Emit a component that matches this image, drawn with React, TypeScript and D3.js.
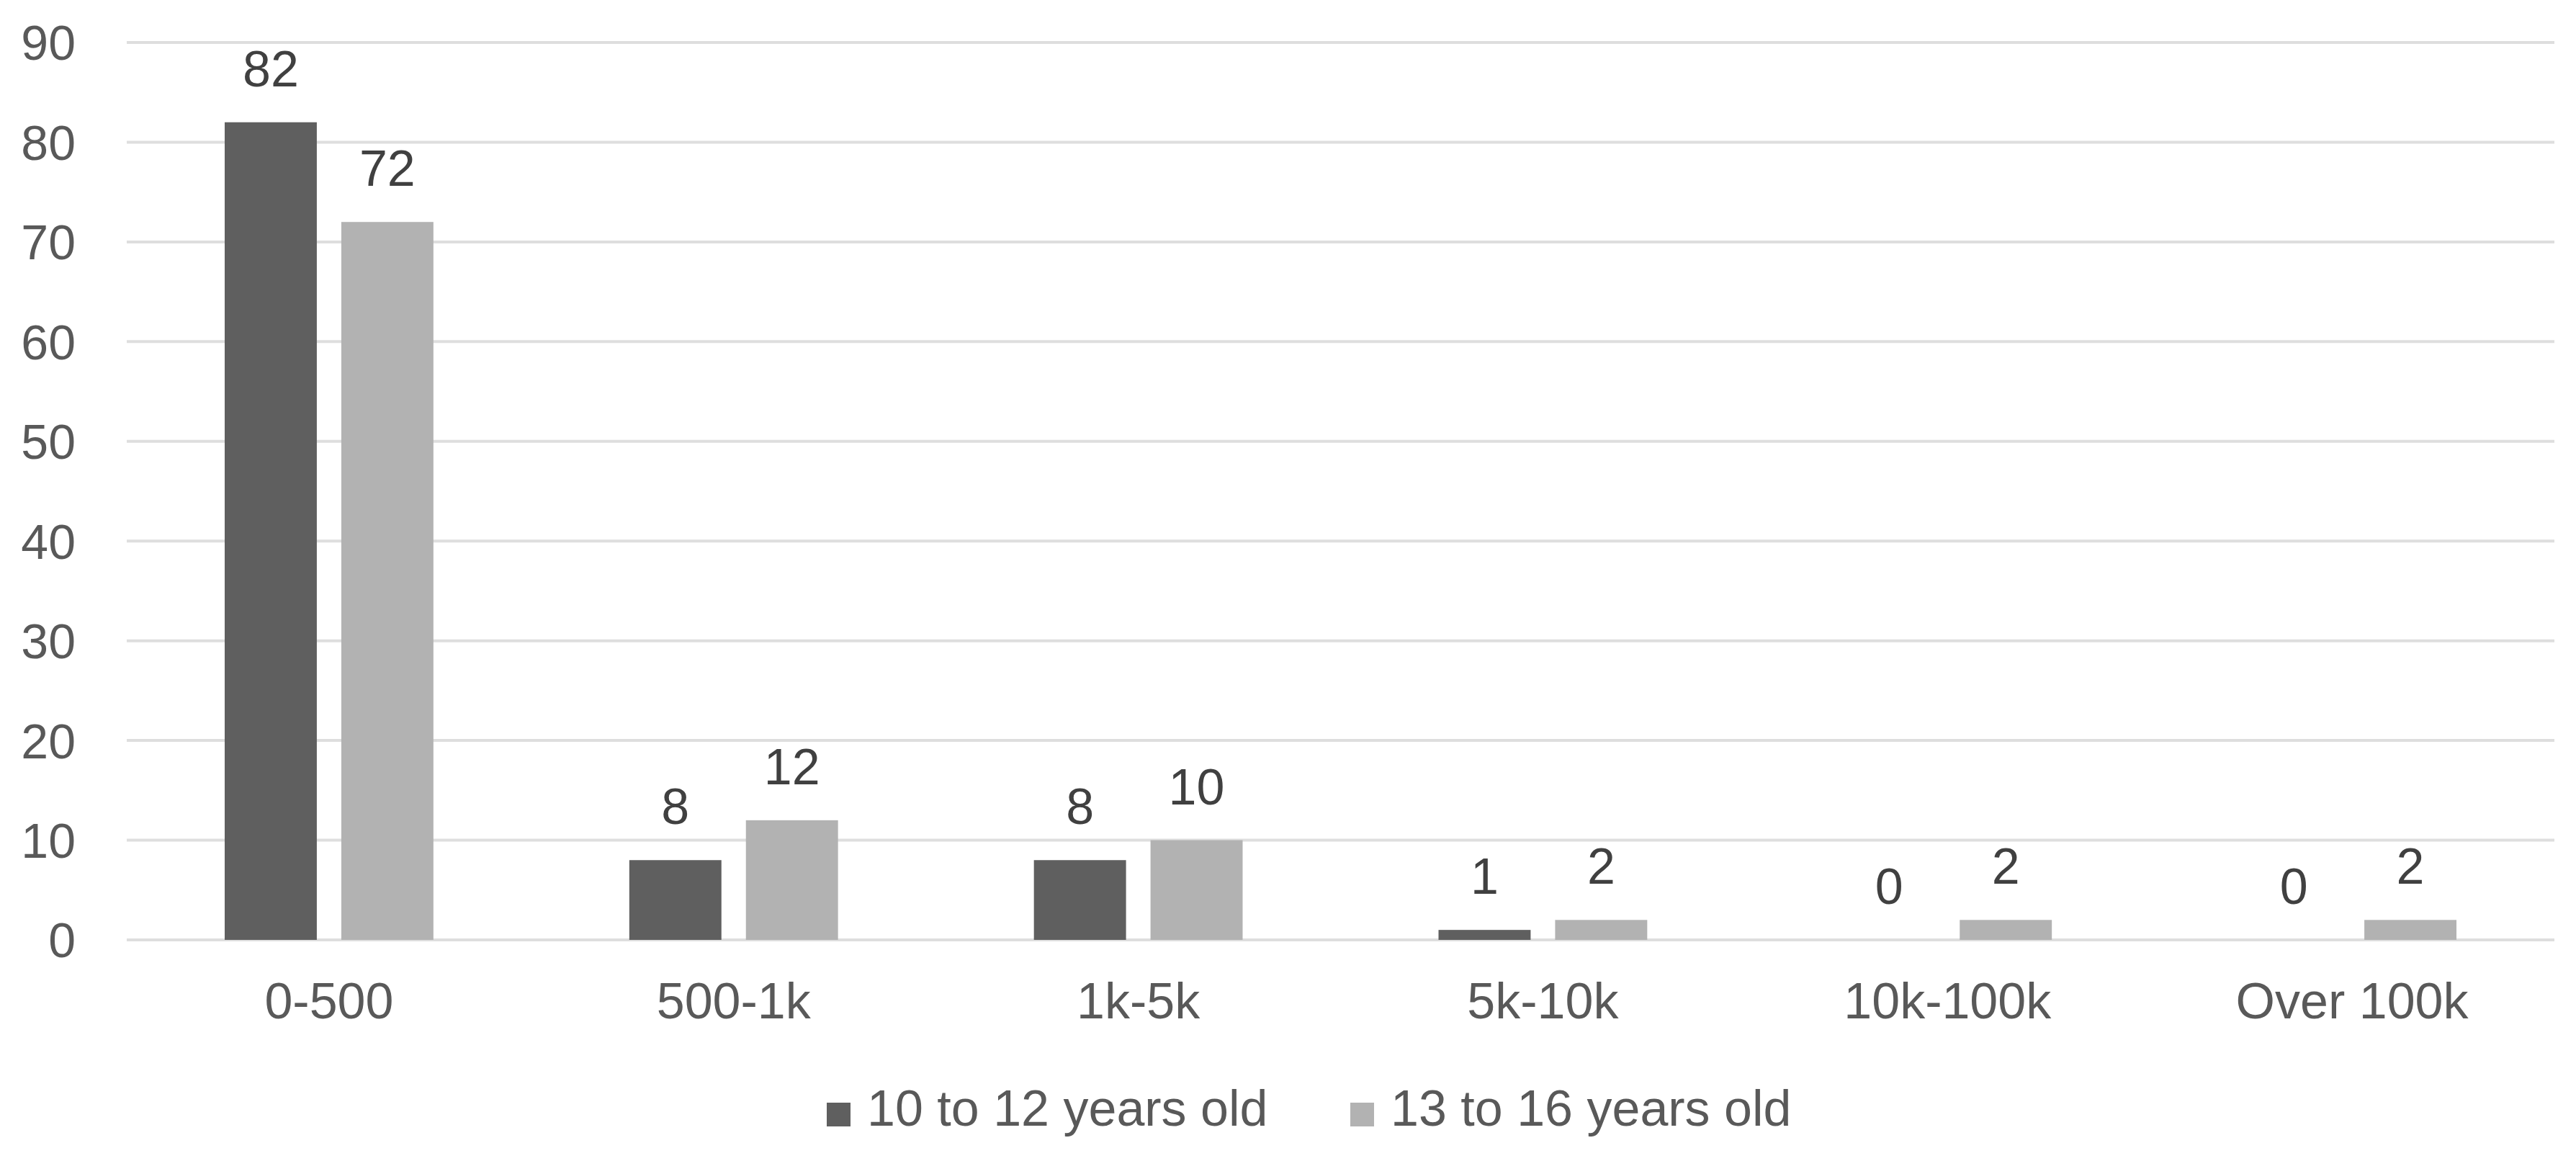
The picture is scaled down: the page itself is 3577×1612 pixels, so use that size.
import React, { useEffect, useRef } from 'react';
import * as d3 from 'd3';

const categories = ['0-500', '500-1k', '1k-5k', '5k-10k', '10k-100k', 'Over 100k'];
const seriesNames = ['10 to 12 years old', '13 to 16 years old'];
const youngerValues = [82, 8, 8, 1, 0, 0];
const olderValues = [72, 12, 10, 2, 2, 2];
const yTicks = [0, 10, 20, 30, 40, 50, 60, 70, 80, 90];
const colors = ['#5f5f5f', '#b2b2b2'];

const W = 3577;
const H = 1612;
const FONT = '"Liberation Sans", Arial, sans-serif';

const App: React.FC = () => {
  const svgRef = useRef<SVGSVGElement>(null);

  useEffect(() => {
    if (!svgRef.current) return;
    const svg = d3.select(svgRef.current);
    svg.selectAll('*').remove();

    const plot = { left: 176, right: 3547, top: 59, bottom: 1305 };

    const x0 = d3.scaleBand<string>()
      .domain(categories)
      .range([plot.left, plot.right])
      .padding(0);

    const x1 = d3.scaleBand<string>()
      .domain(seriesNames)
      .range([0, x0.bandwidth()])
      .paddingInner(0.21)
      .paddingOuter(0.84);

    const y = d3.scaleLinear()
      .domain([0, 90])
      .range([plot.bottom, plot.top]);

    svg.append('rect')
      .attr('width', W)
      .attr('height', H)
      .attr('fill', '#ffffff');

    // grid lines
    svg.append('g')
      .selectAll('line')
      .data(yTicks)
      .enter()
      .append('line')
      .attr('x1', plot.left)
      .attr('x2', plot.right)
      .attr('y1', d => y(d))
      .attr('y2', d => y(d))
      .attr('stroke', '#dedede')
      .attr('stroke-width', 4);

    // y tick labels
    svg.append('g')
      .selectAll('text')
      .data(yTicks)
      .enter()
      .append('text')
      .attr('x', 105)
      .attr('y', d => y(d))
      .attr('dy', '0.36em')
      .attr('text-anchor', 'end')
      .attr('font-family', FONT)
      .attr('font-size', 68)
      .attr('fill', '#595959')
      .text(d => d);

    const rows = categories.map((c, i) => ({
      cat: c,
      vals: [youngerValues[i], olderValues[i]],
    }));

    const groups = svg.append('g')
      .selectAll('g')
      .data(rows)
      .enter()
      .append('g')
      .attr('transform', d => `translate(${x0(d.cat)},0)`);

    groups.selectAll('rect')
      .data(d => d.vals.map((v, k) => ({ v, k })))
      .enter()
      .append('rect')
      .attr('x', d => x1(seriesNames[d.k])!)
      .attr('width', x1.bandwidth())
      .attr('y', d => y(d.v))
      .attr('height', d => y(0) - y(d.v))
      .attr('fill', d => colors[d.k]);

    groups.selectAll('text.val')
      .data(d => d.vals.map((v, k) => ({ v, k })))
      .enter()
      .append('text')
      .attr('class', 'val')
      .attr('x', d => x1(seriesNames[d.k])! + x1.bandwidth() / 2)
      .attr('y', d => y(d.v) - 50)
      .attr('text-anchor', 'middle')
      .attr('font-family', FONT)
      .attr('font-size', 70)
      .attr('fill', '#404040')
      .text(d => d.v);

    // x category labels
    svg.append('g')
      .selectAll('text')
      .data(categories)
      .enter()
      .append('text')
      .attr('x', d => x0(d)! + x0.bandwidth() / 2)
      .attr('y', 1414)
      .attr('text-anchor', 'middle')
      .attr('font-family', FONT)
      .attr('font-size', 70)
      .attr('fill', '#595959')
      .text(d => d);

    // legend
    const legendX = [1148, 1875];
    const legend = svg.append('g')
      .selectAll('g')
      .data(seriesNames)
      .enter()
      .append('g')
      .attr('transform', (_, i) => `translate(${legendX[i]},0)`);

    legend.append('rect')
      .attr('x', 0)
      .attr('y', 1531)
      .attr('width', 33)
      .attr('height', 33)
      .attr('fill', (_, i) => colors[i]);

    legend.append('text')
      .attr('x', 56)
      .attr('y', 1563)
      .attr('font-family', FONT)
      .attr('font-size', 70)
      .attr('fill', '#595959')
      .text(d => d);
  }, []);

  return (
    <div style={{ position: 'absolute', left: 0, top: 0 }}>
      <svg ref={svgRef} width={W} height={H} style={{ display: 'block' }} />
    </div>
  );
};

export default App;
